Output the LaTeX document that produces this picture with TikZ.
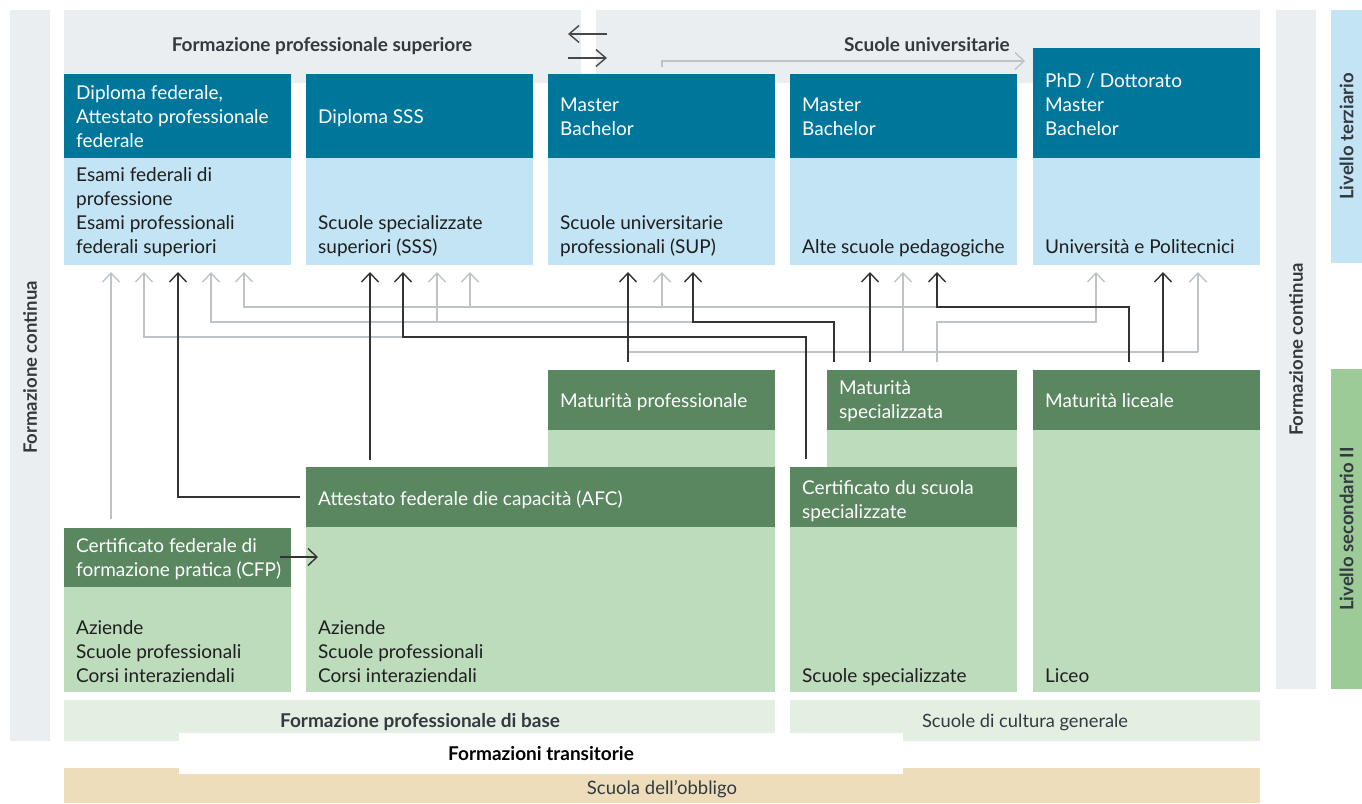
\documentclass[tikz,border=0pt]{standalone}
\usepackage{fontspec}
\setmainfont{Lato}
\usetikzlibrary{arrows.meta,calc}
\definecolor{panel}{HTML}{EAEEF1}
\definecolor{dblue}{HTML}{00769B}
\definecolor{lblue}{HTML}{C2E4F4}
\definecolor{dgreen}{HTML}{5A8760}
\definecolor{lgreen}{HTML}{BCDCBC}
\definecolor{vlgreen}{HTML}{E3EFE3}
\definecolor{beige}{HTML}{EDDDBB}
\definecolor{mgreen}{HTML}{9CCB97}
\definecolor{ink}{HTML}{1E1E1E}
\definecolor{hdr}{HTML}{333A3F}
\definecolor{dline}{HTML}{333333}
\definecolor{gline}{HTML}{BEC3C7}
\newcommand{\bodyf}{\fontsize{19}{24}\selectfont}
\newcommand{\boldf}{\fontsize{19}{22}\selectfont\bfseries}
\newcommand{\sidef}{\fontsize{18.5}{20}\selectfont\bfseries}
\newcommand{\mkbox}[6]{\node[box,fill=#2,minimum width={(#5-#3)*1pt},minimum height={(#6-#4)*1pt}] (#1) at (#3,#4) {};}
\begin{document}
\begin{tikzpicture}[x=1pt,y=-1pt,
  box/.style={draw=none,inner sep=0pt,outer sep=0pt,anchor=north west},
  lbl/.style={anchor=base west,align=left,font=\bodyf,inner sep=0pt,text=ink},
  wlbl/.style={lbl,text=white},
  hd/.style={anchor=base,font=\boldf,inner sep=0pt,text=hdr},
  side/.style={anchor=center,rotate=90,font=\sidef,inner sep=0pt,text=hdr},
  tipstyle/.style={-{Straight Barb[length=9pt,width=17pt]}},
  gl/.style={draw=gline,line width=1.4pt,tipstyle},
  dl/.style={draw=dline,line width=1.4pt,tipstyle},
  gseg/.style={draw=gline,line width=1.4pt},
]
\useasboundingbox (0,0) rectangle (1362,803);
% side and top panels
\mkbox{leftband}{panel}{10}{10}{50}{741}
\mkbox{rightband}{panel}{1276}{10}{1316}{689}
\mkbox{terz}{lblue}{1331}{10}{1362}{263}
\mkbox{sec}{mgreen}{1331}{369}{1362}{689}
\mkbox{p1}{panel}{64}{10}{581}{83}
\mkbox{p2}{panel}{596}{10}{1260}{83}
\node[side] (lfc) at ($(leftband.center)+(0,-8)$) {Formazione continua};
\node[side] (rfc) at ($(rightband.center)+(0,0)$) {Formazione continua};
\node[side] (lterz) at (terz.center) {Livello terziario};
\node[side] (lsec) at (sec.center) {Livello secondario II};
\node[hd] (hfps) at (322,51) {Formazione professionale superiore};
\node[hd,anchor=base east] (hsu) at (1010,51) {Scuole universitarie};
% tertiary boxes
\mkbox{b1d}{dblue}{64}{74}{291}{158}
\mkbox{b1l}{lblue}{64}{158}{291}{265}
\mkbox{b2d}{dblue}{306}{74}{533}{158}
\mkbox{b2l}{lblue}{306}{158}{533}{265}
\mkbox{b3d}{dblue}{548}{74}{775}{158}
\mkbox{b3l}{lblue}{548}{158}{775}{265}
\mkbox{b4d}{dblue}{790}{74}{1017}{158}
\mkbox{b4l}{lblue}{790}{158}{1017}{265}
\mkbox{b5d}{dblue}{1033}{48}{1260}{158}
\mkbox{b5l}{lblue}{1033}{158}{1260}{265}
% multi-line labels are placed at the baseline of their last line
\node[wlbl] (t1) at (76,147) {Diploma federale,\\Attestato professionale\\federale};
\node[wlbl] (t2) at (318,123) {Diploma SSS};
\node[wlbl] (t3) at (560,135) {Master\\Bachelor};
\node[wlbl] (t4) at (802,135) {Master\\Bachelor};
\node[wlbl] (t5) at (1045,135) {PhD / Dottorato\\Master\\Bachelor};
\node[lbl] (u1) at (76,253) {Esami federali di\\professione\\Esami professionali\\federali superiori};
\node[lbl] (u2) at (318,253) {Scuole specializzate\\superiori (SSS)};
\node[lbl] (u3) at (560,253) {Scuole universitarie\\professionali (SUP)};
\node[lbl] (u4) at (802,253) {Alte scuole pedagogiche};
\node[lbl] (u5) at (1045,253) {Università e Politecnici};
% secondary boxes
\mkbox{mpd}{dgreen}{548}{370}{775}{430}
\mkbox{mpl}{lgreen}{548}{430}{775}{467}
\mkbox{msd}{dgreen}{827}{370}{1017}{430}
\mkbox{msl}{lgreen}{827}{430}{1017}{467}
\mkbox{mld}{dgreen}{1033}{370}{1260}{430}
\mkbox{mll}{lgreen}{1033}{430}{1260}{692}
\mkbox{afcd}{dgreen}{306}{467}{775}{527}
\mkbox{afcl}{lgreen}{306}{527}{775}{692}
\mkbox{csd}{dgreen}{790}{467}{1017}{527}
\mkbox{csl}{lgreen}{790}{527}{1017}{692}
\mkbox{cfpd}{dgreen}{64}{528}{291}{587}
\mkbox{cfpl}{lgreen}{64}{587}{291}{692}
\node[wlbl] (g1) at (560,407) {Maturità professionale};
\node[wlbl] (g2) at (839,418) {Maturità\\specializzata};
\node[wlbl] (g3) at (1045,407) {Maturità liceale};
\node[wlbl] (g4) at (802,518) {Certificato du scuola\\specializzate};
\node[wlbl] (g5) at (318,505) {Attestato federale die capacità (AFC)};
\node[wlbl] (g6) at (76,576) {Certificato federale di\\formazione pratica (CFP)};
\node[lbl] (h1) at (1045,682) {Liceo};
\node[lbl] (h2) at (802,682) {Scuole specializzate};
\node[lbl] (h3) at (318,682) {Aziende\\Scuole professionali\\Corsi interaziendali};
\node[lbl] (h4) at (76,682) {Aziende\\Scuole professionali\\Corsi interaziendali};
% bottom bands
\mkbox{fpb}{vlgreen}{64}{700}{775}{741}
\mkbox{scg}{vlgreen}{790}{700}{1260}{741}
\mkbox{obb}{beige}{64}{768}{1260}{803}
\mkbox{trans}{white}{179}{733}{903}{774}
\node[hd] (lfpb) at (420,727) {Formazione professionale di base};
\node[hd,font=\fontsize{18.3}{20}\selectfont] (lscg) at (1025,727) {Scuole di cultura generale};
\node[hd,text=black] (ltrans) at (541,760) {Formazioni transitorie};
\node[hd,font=\fontsize{18.5}{20}\selectfont] (lobb) at (662,794) {Scuola dell’obbligo};
% top arrows
\coordinate (ta1) at (607,34); \coordinate (ta2) at (568,34);
\coordinate (tb1) at (568,58); \coordinate (tb2) at (607,58);
\draw[draw=dline!90,line width=1.4pt,-{Straight Barb[length=10pt,width=17pt]}] (ta1) -- (ta2);
\draw[draw=dline!90,line width=1.4pt,-{Straight Barb[length=10pt,width=17pt]}] (tb1) -- (tb2);
\coordinate (su0) at (662,67); \coordinate (su1) at (1025,61);
\draw[gl] (su0) |- (su1);
% grey connectors
\draw[gl] ($(cfpd.north west)+(47,-9)$) -- ($(b1l.south west)+(47,7)$);
\draw[gl] ($(b1l.south west)+(339,72)$) -| ($(b1l.south west)+(80,7)$);
\draw[gl] ($(b1l.south west)+(629,57)$) -| ($(b1l.south west)+(147,7)$);
\draw[gl] ($(b2l.south west)+(131,57)$) -- ($(b2l.south west)+(131,7)$);
\draw[gl] ($(b1l.south west)+(873,42)$) -| ($(b1l.south west)+(180,7)$);
\draw[gl] ($(b2l.south west)+(164,42)$) -- ($(b2l.south west)+(164,7)$);
\draw[gl] ($(b3l.south west)+(114,42)$) -- ($(b3l.south west)+(114,7)$);
\draw[gseg] ($(mpd.north west)+(80,-18)$) -- ($(b5l.south west)+(165,87)$);
\draw[gl] ($(b5l.south west)+(165,87)$) -- ($(b5l.south west)+(165,7)$);
\draw[gl] ($(b4l.south west)+(113,87)$) -- ($(b4l.south west)+(113,7)$);
\draw[gl] ($(msd.north west)+(110,-8)$) |- ($(b5l.south west)+(63,57)$) -- ($(b5l.south west)+(63,7)$);
% dark connectors
\draw[dl] ($(cfpd.north east)+(-11,29)$) -- ($(afcd.north west)+(12,90)$);
\draw[dl] ($(afcd.north west)+(-6,30)$) -| ($(b1l.south west)+(114,7)$);
\draw[dl] ($(afcd.north west)+(64,-7)$) -- ($(b2l.south west)+(64,7)$);
\draw[dl] ($(csd.north west)+(16,-8)$) |- ($(b2l.south west)+(97,72)$) -- ($(b2l.south west)+(97,7)$);
\draw[dl] ($(mpd.north west)+(80,-8)$) -- ($(b3l.south west)+(80,7)$);
\draw[dl] ($(msd.north west)+(7,-8)$) |- ($(b3l.south west)+(145,57)$) -- ($(b3l.south west)+(145,7)$);
\draw[dl] ($(msd.north west)+(43,-8)$) -- ($(b4l.south west)+(80,7)$);
\draw[dl] ($(mld.north west)+(96,-8)$) |- ($(b4l.south west)+(147,42)$) -- ($(b4l.south west)+(147,7)$);
\draw[dl] ($(mld.north west)+(130,-8)$) -- ($(b5l.south west)+(130,7)$);
\end{tikzpicture}
\end{document}
